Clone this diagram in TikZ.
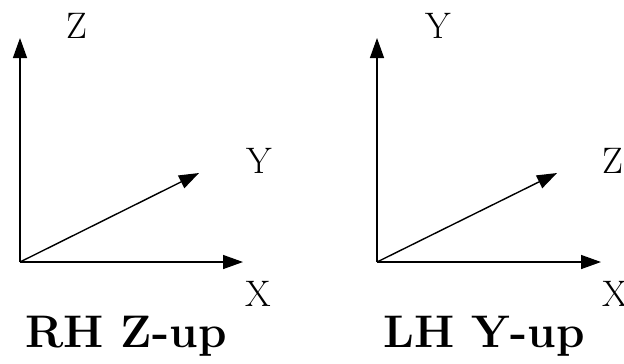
\documentclass[tikz,border=0pt]{standalone}
\usepackage{tikz}
\usetikzlibrary{arrows.meta}

\begin{document}
\begin{tikzpicture}[
  x=0.02cm, y=-0.02cm,
  axis/.style={-{Triangle[length=0.4cm, width=0.28cm]}, line width=0.8pt, draw=black},
  axislabel/.style={anchor=base, inner sep=0pt, font=\fontsize{21}{24}\selectfont},
  title/.style={anchor=base, inner sep=0pt, font=\fontsize{26}{30}\selectfont\bfseries}
]
  \useasboundingbox (0,0) rectangle (624,363);

  % right handed, Z up
  \coordinate (rhorigin) at (20,262);
  \coordinate (rhx) at (243,262);
  \coordinate (rhy) at (199,173);
  \coordinate (rhz) at (20,38);
  \draw[axis] (rhorigin) -- (rhx);
  \draw[axis] (rhorigin) -- (rhy);
  \draw[axis] (rhorigin) -- (rhz);
  \node[axislabel] (rhxlabel) at (258,306) {X};
  \node[axislabel] (rhylabel) at (259,173) {Y};
  \node[axislabel] (rhzlabel) at (77,38) {Z};
  \node[title] (rhtitle) at (126,347) {RH Z-up};

  % left handed, Y up
  \coordinate (lhorigin) at (377,262);
  \coordinate (lhx) at (601,262);
  \coordinate (lhz) at (557,173);
  \coordinate (lhy) at (377,38);
  \draw[axis] (lhorigin) -- (lhx);
  \draw[axis] (lhorigin) -- (lhz);
  \draw[axis] (lhorigin) -- (lhy);
  \node[axislabel] (lhxlabel) at (615,306) {X};
  \node[axislabel] (lhzlabel) at (613,173) {Z};
  \node[axislabel] (lhylabel) at (438,38) {Y};
  \node[title] (lhtitle) at (484,347) {LH Y-up};
\end{tikzpicture}
\end{document}
